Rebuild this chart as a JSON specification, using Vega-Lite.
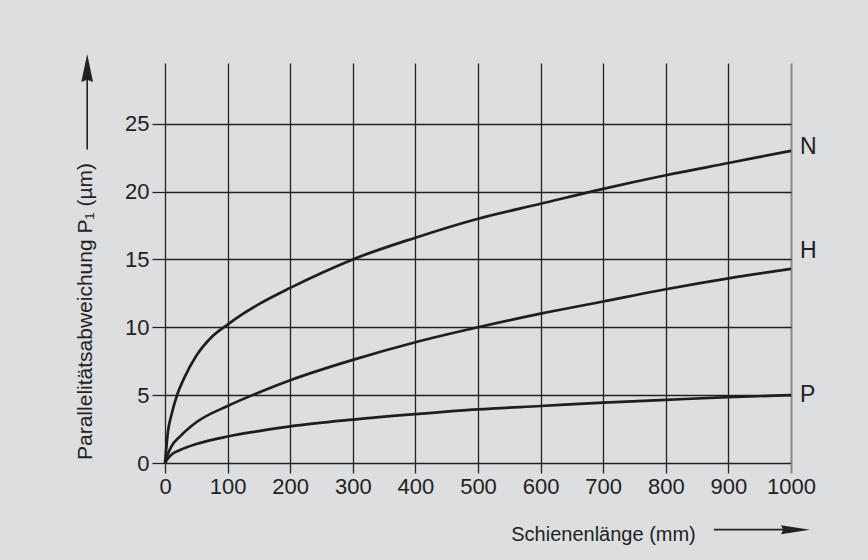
{
  "$schema": "https://vega.github.io/schema/vega-lite/v6.json",
  "width": 626,
  "height": 400,
  "autosize": {"type": "none"},
  "padding": {"left": 165, "top": 63, "right": 77, "bottom": 97},
  "background": "#dddee0",
  "config": {
    "view": {"stroke": null},
    "font": "Liberation Sans",
    "axis": {"labelFont": "Liberation Sans", "titleFont": "Liberation Sans", "labelColor": "#222", "titleColor": "#222", "titleFontWeight": "normal"}
  },
  "datasets": {
    "curves": [
      {"series": "N", "x": 0, "y": 0}, {"series": "N", "x": 5, "y": 2.4}, {"series": "N", "x": 10, "y": 3.5}, {"series": "N", "x": 20, "y": 5.1}, {"series": "N", "x": 30, "y": 6.2}, {"series": "N", "x": 50, "y": 7.9}, {"series": "N", "x": 75, "y": 9.3}, {"series": "N", "x": 100, "y": 10.2}, {"series": "N", "x": 125, "y": 11.0}, {"series": "N", "x": 150, "y": 11.7}, {"series": "N", "x": 200, "y": 12.9}, {"series": "N", "x": 250, "y": 14.0}, {"series": "N", "x": 300, "y": 15.0}, {"series": "N", "x": 400, "y": 16.6}, {"series": "N", "x": 500, "y": 18.0}, {"series": "N", "x": 600, "y": 19.1}, {"series": "N", "x": 700, "y": 20.2}, {"series": "N", "x": 800, "y": 21.2}, {"series": "N", "x": 900, "y": 22.1}, {"series": "N", "x": 1000, "y": 23.0},
      {"series": "H", "x": 0, "y": 0}, {"series": "H", "x": 5, "y": 0.7}, {"series": "H", "x": 10, "y": 1.2}, {"series": "H", "x": 25, "y": 2.0}, {"series": "H", "x": 50, "y": 3.0}, {"series": "H", "x": 100, "y": 4.2}, {"series": "H", "x": 150, "y": 5.2}, {"series": "H", "x": 200, "y": 6.1}, {"series": "H", "x": 300, "y": 7.6}, {"series": "H", "x": 400, "y": 8.9}, {"series": "H", "x": 500, "y": 10.0}, {"series": "H", "x": 600, "y": 11.0}, {"series": "H", "x": 700, "y": 11.9}, {"series": "H", "x": 800, "y": 12.8}, {"series": "H", "x": 900, "y": 13.6}, {"series": "H", "x": 1000, "y": 14.3},
      {"series": "P", "x": 0, "y": 0}, {"series": "P", "x": 5, "y": 0.35}, {"series": "P", "x": 10, "y": 0.6}, {"series": "P", "x": 25, "y": 0.98}, {"series": "P", "x": 50, "y": 1.4}, {"series": "P", "x": 100, "y": 1.95}, {"series": "P", "x": 150, "y": 2.35}, {"series": "P", "x": 200, "y": 2.7}, {"series": "P", "x": 300, "y": 3.2}, {"series": "P", "x": 400, "y": 3.6}, {"series": "P", "x": 500, "y": 3.95}, {"series": "P", "x": 600, "y": 4.2}, {"series": "P", "x": 700, "y": 4.45}, {"series": "P", "x": 800, "y": 4.65}, {"series": "P", "x": 900, "y": 4.85}, {"series": "P", "x": 1000, "y": 5.0}
    ],
    "labels": [
      {"series": "N", "x": 1000, "y": 23.3},
      {"series": "H", "x": 1000, "y": 15.6},
      {"series": "P", "x": 1000, "y": 5.0}
    ]
  },
  "layer": [
    {
      "data": {"name": "curves"},
      "mark": {"type": "line", "interpolate": "monotone", "strokeWidth": 2.7, "color": "#1e1e1e"},
      "encoding": {
        "x": {
          "field": "x", "type": "quantitative",
          "scale": {"domain": [0, 1000], "nice": false, "zero": false},
          "axis": {
            "values": [0, 100, 200, 300, 400, 500, 600, 700, 800, 900, 1000],
            "format": "d",
            "grid": true,
            "gridColor": {"condition": {"test": "datum.value === 1000", "value": "#8a8a8a"}, "value": "#222"},
            "gridWidth": {"condition": {"test": "datum.value === 1000", "value": 2}, "value": 1.3},
            "gridOpacity": 1,
            "domain": false,
            "ticks": true,
            "tickSize": 10,
            "tickColor": {"condition": {"test": "datum.value === 1000", "value": "#8a8a8a"}, "value": "#222"},
            "tickWidth": {"condition": {"test": "datum.value === 1000", "value": 2}, "value": 1.3},
            "labelFontSize": 22,
            "labelPadding": 3,
            "labelFlush": false,
            "labelOverlap": false,
            "title": "Schienenlänge (mm)",
            "titleFontSize": 20,
            "titleAlign": "center",
            "titleBaseline": "alphabetic",
            "titleX": 438,
            "titleY": 77
          }
        },
        "y": {
          "field": "y", "type": "quantitative",
          "scale": {"domain": [0, 29.47], "nice": false},
          "axis": {
            "values": [0, 5, 10, 15, 20, 25],
            "grid": true,
            "gridColor": "#222",
            "gridWidth": 1.3,
            "gridOpacity": 1,
            "domain": false,
            "tickSize": 13,
            "tickColor": "#222",
            "tickWidth": 1.3,
            "labelFontSize": 22,
            "labelPadding": 3,
            "labelFlush": false,
            "title": "Parallelitätsabweichung P₁ (µm)",
            "titleFontSize": 21,
            "titleAngle": -90,
            "titleAlign": "center",
            "titleBaseline": "middle",
            "titleX": -80,
            "titleY": 248
          }
        },
        "detail": {"field": "series", "type": "nominal"}
      }
    },
    {
      "data": {"name": "labels"},
      "mark": {"type": "text", "align": "left", "baseline": "middle", "dx": 9, "fontSize": 23, "color": "#222", "font": "Liberation Sans"},
      "encoding": {
        "x": {"field": "x", "type": "quantitative"},
        "y": {"field": "y", "type": "quantitative"},
        "text": {"field": "series", "type": "nominal"}
      }
    },
    {
      "data": {"values": [{}]},
      "mark": {"type": "rule", "color": "#222", "strokeWidth": 1.6, "clip": false},
      "encoding": {"x": {"datum": 876.8}, "x2": {"datum": 1008}, "y": {"datum": -4.91}}
    },
    {
      "data": {"values": [{}]},
      "mark": {"type": "point", "filled": true, "opacity": 1, "color": "#222", "shape": "M-1,-0.31L1,0L-1,0.31L-0.85,0Z", "size": 841, "clip": false},
      "encoding": {"x": {"datum": 1007.2}, "y": {"datum": -4.91}}
    },
    {
      "data": {"values": [{}]},
      "mark": {"type": "rule", "color": "#222", "strokeWidth": 1.6, "clip": false},
      "encoding": {"x": {"datum": -124.3}, "y": {"datum": 23.1}, "y2": {"datum": 29.2}}
    },
    {
      "data": {"values": [{}]},
      "mark": {"type": "point", "filled": true, "opacity": 1, "color": "#222", "shape": "M-0.42,1L0,-1L0.42,1L0,0.85Z", "size": 784, "clip": false},
      "encoding": {"x": {"datum": -124.3}, "y": {"datum": 29.11}}
    }
  ]
}
